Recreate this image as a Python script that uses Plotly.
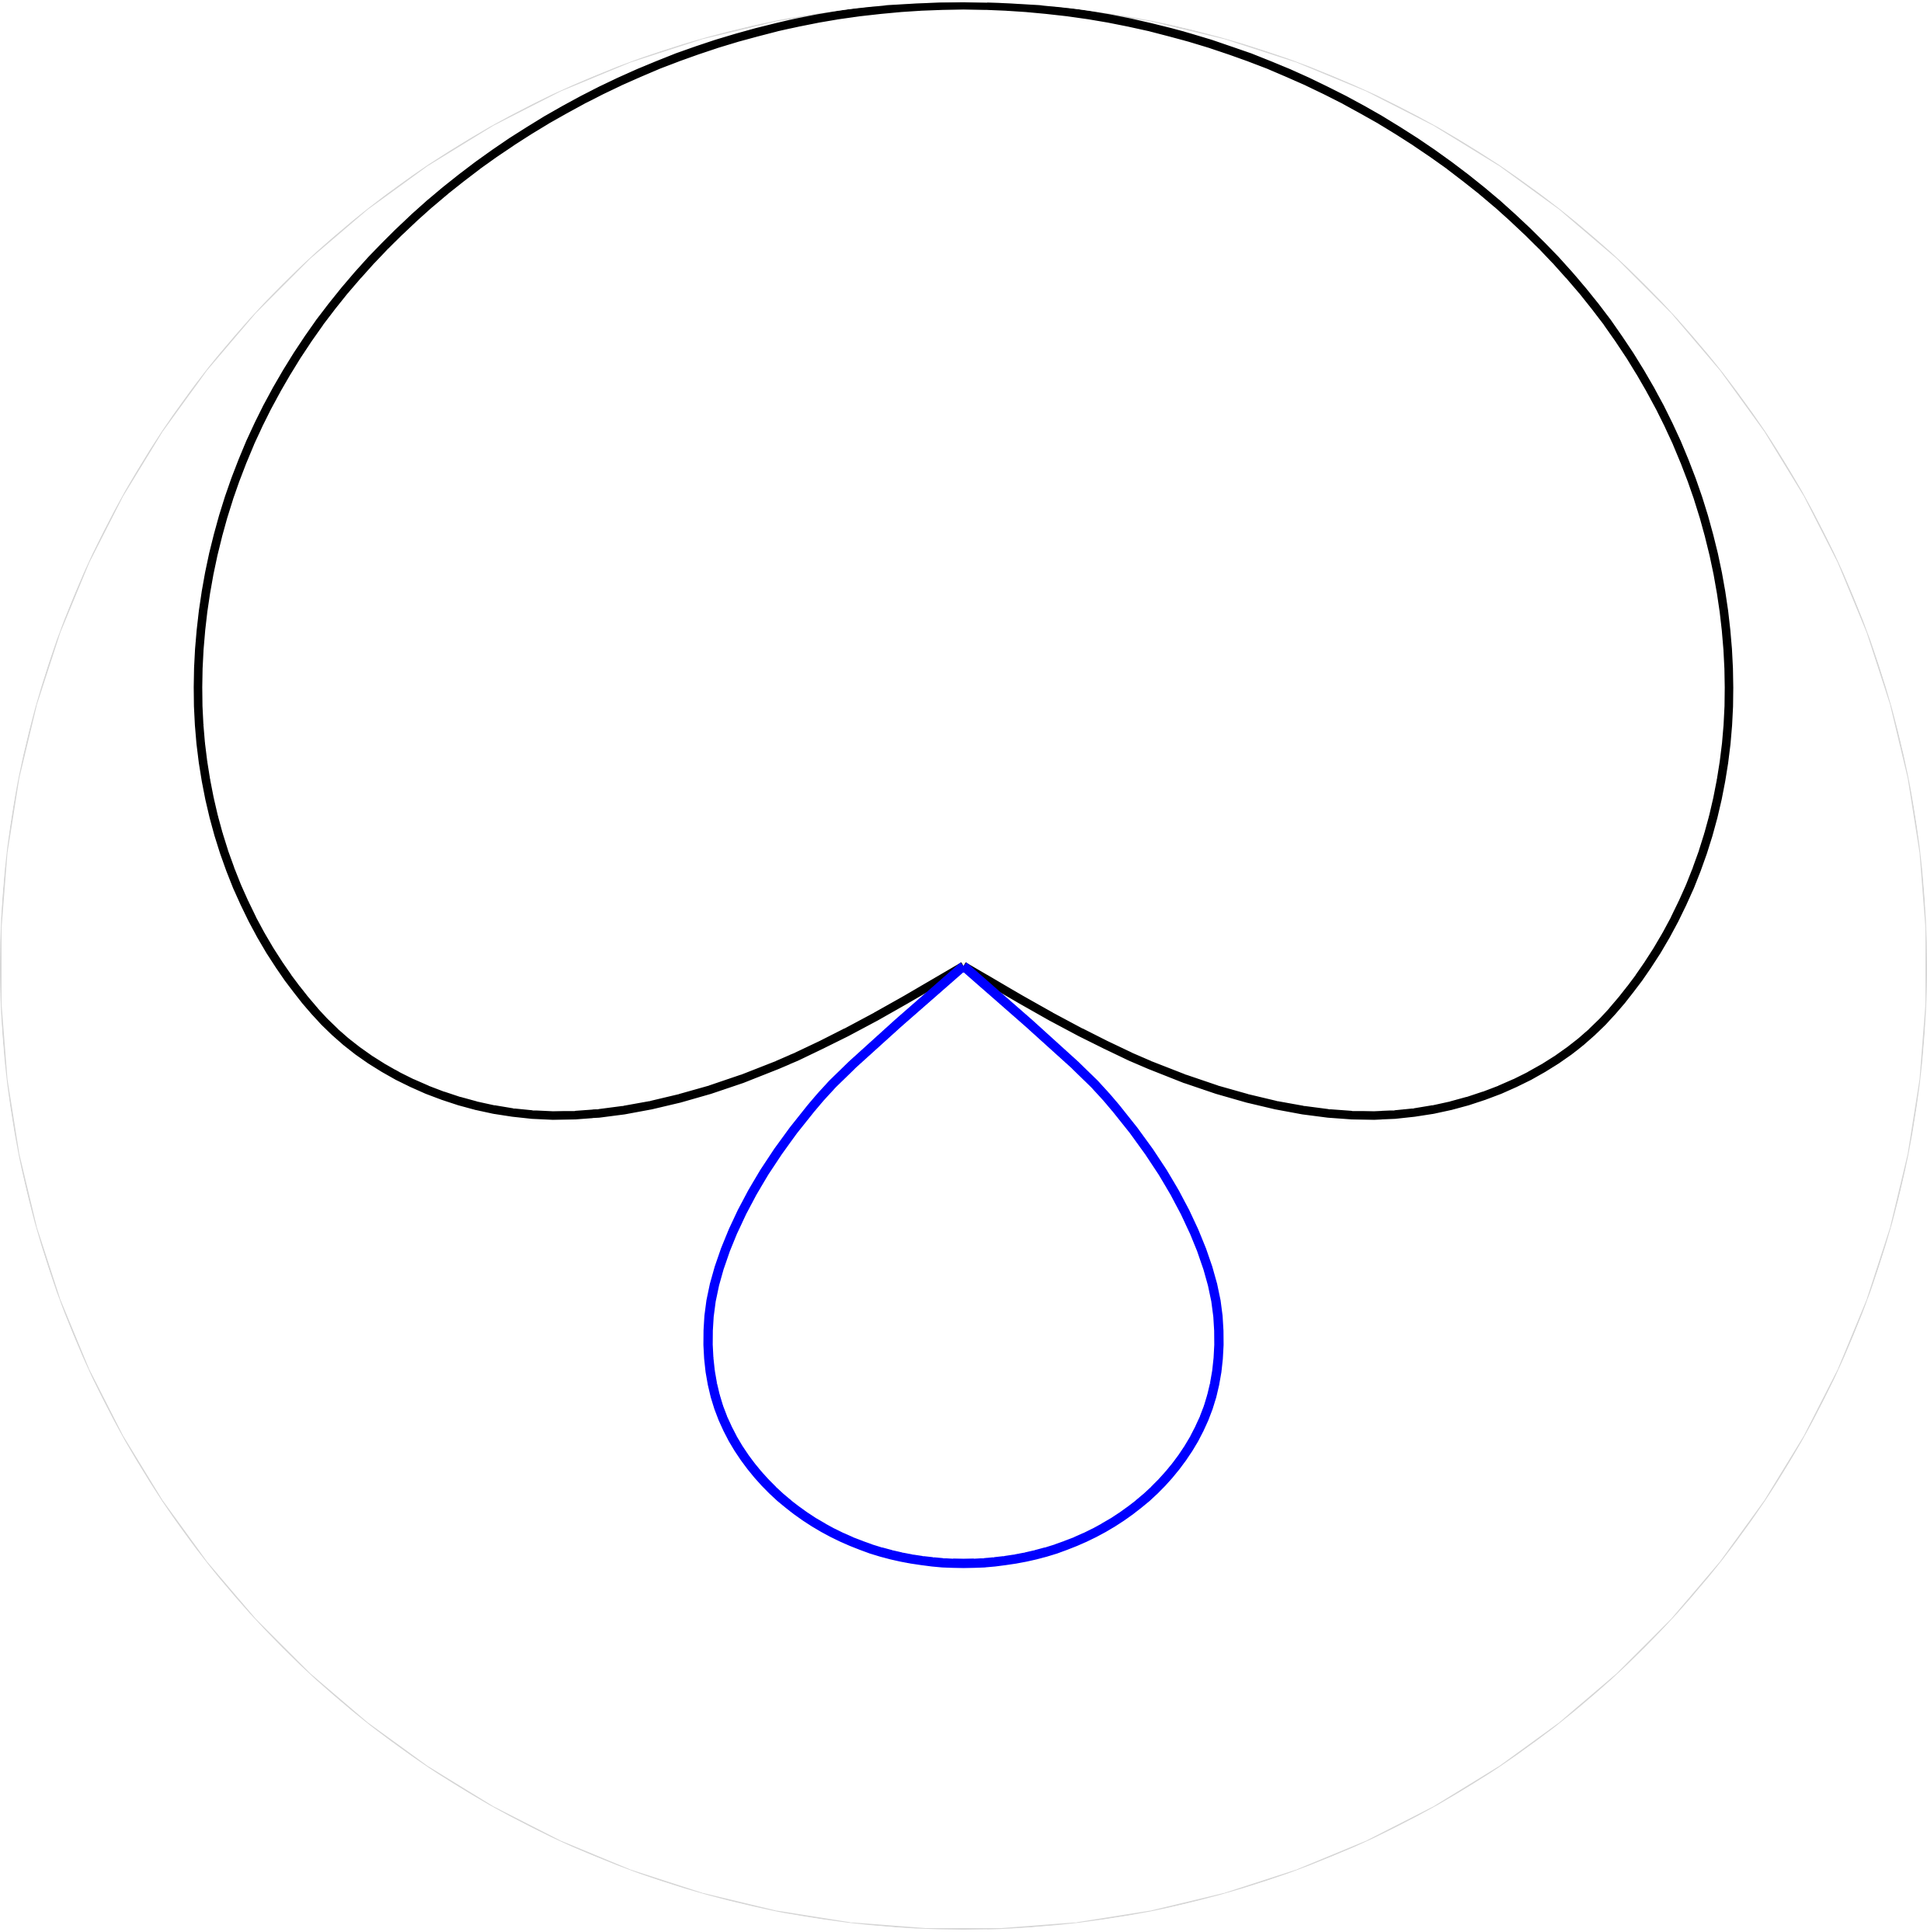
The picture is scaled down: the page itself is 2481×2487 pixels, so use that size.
import plotly.graph_objects as go

# Black curve, right half: angle (degrees) and radius (fraction of the outer ring)
black_theta_half = [-30.6, -30.3, -30, -29.5, -29, -28.5, -28, -27, -26, -25, -24, -23, -22, -21, -20,
                    -19, -18, -17, -16, -15, -14, -13, -12, -11, -10, -9, -8, -7, -6, -5, -4, -3, -2, -1,
                    0, 1.25, 2.5, 3.75, 5, 6.25, 7.5, 8.75, 10, 11.25, 12.5, 13.75, 15, 16.25, 17.5,
                    18.75, 20, 21.25, 22.5, 23.75, 25, 26.25, 27.5, 28.75, 30, 31.25, 32.5, 33.75, 35,
                    36.25, 37.5, 38.75, 40, 41.25, 42.5, 43.75, 45, 46.25, 47.5, 48.75, 50, 51.25, 52.5,
                    53.75, 55, 56.25, 57.5, 58.75, 60, 61.25, 62.5, 63.75, 65, 66.25, 67.5, 68.75, 70,
                    71.25, 72.5, 73.75, 75, 76.25, 77.5, 78.75, 80, 81.25, 82.5, 83.75, 85, 86.25, 87.5,
                    88.75, 90]
black_r_half = [0.0, 0.07, 0.105, 0.14, 0.1685, 0.1972, 0.219, 0.258, 0.2927, 0.325, 0.3549, 0.3827,
                0.4082, 0.4318, 0.4536, 0.4735, 0.492, 0.5095, 0.526, 0.5417, 0.5567, 0.5712, 0.585,
                0.5982, 0.6109, 0.623, 0.6346, 0.6456, 0.6559, 0.6657, 0.6749, 0.6838, 0.6925, 0.7011,
                0.7095, 0.7198, 0.7298, 0.7396, 0.7491, 0.7585, 0.7675, 0.7764, 0.785, 0.7934,
                0.8015, 0.8094, 0.8171, 0.8246, 0.8318, 0.8388, 0.8455, 0.8521, 0.8585, 0.8647,
                0.8708, 0.8767, 0.8825, 0.8881, 0.8935, 0.8988, 0.9039, 0.9088, 0.9135, 0.9181,
                0.9224, 0.9266, 0.9305, 0.9343, 0.938, 0.9414, 0.9448, 0.9478, 0.9508, 0.9535,
                0.9562, 0.9587, 0.9611, 0.9634, 0.9657, 0.9678, 0.9698, 0.9718, 0.9736, 0.9754,
                0.9771, 0.9788, 0.9803, 0.9819, 0.9833, 0.9847, 0.986, 0.9873, 0.9885, 0.9895,
                0.9906, 0.9916, 0.9924, 0.9933, 0.9941, 0.9948, 0.9953, 0.9958, 0.9962, 0.9965,
                0.9967, 0.9969, 0.9969]

# Blue loop, left half: angle (degrees) and radius
blue_theta_half = [221.0, 221.2, 221.6, 222.0, 222.5, 223, 224, 225, 226, 227, 228, 229, 230, 231, 232,
                   233, 234, 235, 236, 237, 238, 239, 240, 241, 242, 243, 244, 245, 246, 247, 248, 249,
                   250, 251, 252, 253, 254, 255, 256, 257, 258, 259, 260, 261, 262, 263, 264, 265, 266,
                   267, 268, 269, 270]
blue_r_half = [0.0, 0.09, 0.155, 0.183, 0.201, 0.2161, 0.2452, 0.2723, 0.2977, 0.3214, 0.3437, 0.3646,
               0.3844, 0.4029, 0.4199, 0.4354, 0.4493, 0.462, 0.4741, 0.4854, 0.4961, 0.506, 0.5153,
               0.5239, 0.5318, 0.5391, 0.546, 0.5524, 0.5584, 0.564, 0.5693, 0.5743, 0.5789, 0.5833,
               0.5873, 0.5911, 0.5946, 0.5979, 0.6009, 0.6037, 0.6062, 0.6085, 0.6106, 0.6125,
               0.6141, 0.6155, 0.6167, 0.6177, 0.6185, 0.6191, 0.6196, 0.6199, 0.62]

assert len(black_theta_half) == len(black_r_half)
assert len(blue_theta_half) == len(blue_r_half)

# Outer ring
ring_segments = 80
ring_offset = 2.25
ring_r = 1.0

# Full symmetric curves (mirror about the vertical axis)
black_theta = black_theta_half + [180 - t for t in reversed(black_theta_half[:-1])]
black_r = black_r_half + list(reversed(black_r_half[:-1]))
blue_theta = blue_theta_half + [540 - t for t in reversed(blue_theta_half[:-1])]
blue_r = blue_r_half + list(reversed(blue_r_half[:-1]))

step = 360 / ring_segments
ring_theta = [ring_offset + step * k for k in range(ring_segments + 1)]
ring_rs = [ring_r] * len(ring_theta)

fig = go.Figure()
fig.add_trace(go.Scatterpolar(r=ring_rs, theta=ring_theta, mode="lines",
                              line=dict(color="#d6d6d6", width=2), hoverinfo="skip"))
fig.add_trace(go.Scatterpolar(r=black_r, theta=black_theta, mode="lines",
                              line=dict(color="black", width=11, shape="linear")))
fig.add_trace(go.Scatterpolar(r=blue_r, theta=blue_theta, mode="lines",
                              line=dict(color="blue", width=12, shape="linear")))

fig.update_layout(
    width=2481, height=2487,
    margin=dict(l=0, r=0, t=0, b=0, pad=0),
    paper_bgcolor="white",
    showlegend=False,
    polar=dict(
        domain=dict(x=[0, 1], y=[0, 1]),
        bgcolor="white",
        radialaxis=dict(range=[0, 1], visible=False, showgrid=False),
        angularaxis=dict(visible=False, showgrid=False, rotation=0, direction="counterclockwise"),
    ),
)

fig.write_html("out.html", config={"displayModeBar": False},
               post_script="document.body.style.margin='0';document.body.style.padding='0';")
